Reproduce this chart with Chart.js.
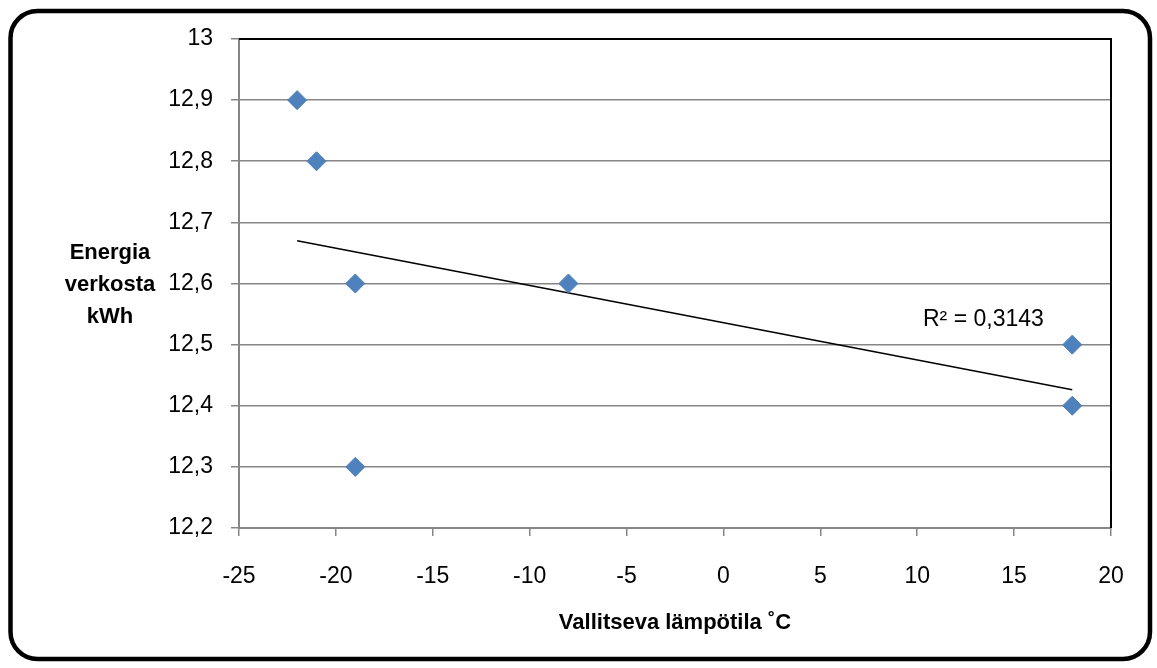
<!DOCTYPE html>
<html>
<head>
<meta charset="utf-8">
<script src="https://cdn.jsdelivr.net/npm/chart.js@4/dist/chart.umd.min.js"></script>
<style>
  html, body { margin: 0; padding: 0; background: #fff; }
  #wrap { width: 1157px; height: 668px; }
</style>
</head>
<body>
<div id="wrap"><canvas id="energy-chart" width="1157" height="668"></canvas></div>
<script>
// temperature (x) vs energy from grid (y)
const tempValues = [-22, -21, -19, -19, -8, 18, 18];
const energyValues = [12.9, 12.8, 12.6, 12.3, 12.6, 12.5, 12.4];

// linear trendline end points
const trendX = [-22, 18];
const trendY = [12.67, 12.426];

const xTitle = 'Vallitseva lämpötila ˚C';
const yTitle = ['Energia', 'verkosta', 'kWh'];
const rSquaredLabel = 'R² = 0,3143';

const FONT = '"Liberation Sans", Arial, sans-serif';

const frame = {
  id: 'frame',
  afterDraw(chart) {
    const ctx = chart.ctx;
    const a = chart.chartArea;
    ctx.save();
    // plot area top/right border
    ctx.strokeStyle = '#000';
    ctx.lineWidth = 2;
    ctx.beginPath();
    ctx.moveTo(a.left, a.top);
    ctx.lineTo(a.right, a.top);
    ctx.lineTo(a.right, a.bottom);
    ctx.stroke();

    // y title, horizontal lines
    ctx.fillStyle = '#000';
    ctx.font = 'bold 22px ' + FONT;
    ctx.textAlign = 'center';
    ctx.textBaseline = 'middle';
    yTitle.forEach((t, i) => ctx.fillText(t, 110, 253 + i * 32));

    // r squared label
    ctx.font = '23px ' + FONT;
    ctx.textAlign = 'left';
    ctx.fillText(rSquaredLabel, 923, 320);

    // outer rounded frame
    ctx.lineWidth = 4.5;
    ctx.beginPath();
    ctx.roundRect(10.5, 11, 1139.5, 648, 27);
    ctx.stroke();
    ctx.restore();
  }
};

const dataEnergy = {
  datasets: [
    {
      label: 'Energia',
      data: tempValues.map((x, i) => ({x: x, y: energyValues[i]})),
      pointStyle: 'rectRot',
      pointRadius: 9.5,
      pointHoverRadius: 9.5,
      backgroundColor: '#4F81BD',
      borderColor: '#4A7EBB',
      borderWidth: 1,
      order: 1
    },
    {
      label: 'Trend',
      data: trendX.map((x, i) => ({x: x, y: trendY[i]})),
      showLine: true,
      pointRadius: 0,
      borderColor: '#000',
      borderWidth: 1.5,
      order: 2
    }
  ]
};

const configEnergy = {
  type: 'scatter',
  data: dataEnergy,
  options: {
    responsive: false,
    animation: false,
    devicePixelRatio: 1,
    layout: { padding: { left: 0, top: 39, right: 46, bottom: 0 } },
    plugins: {
      legend: { display: false },
      tooltip: { enabled: false }
    },
    scales: {
      x: {
        type: 'linear',
        min: -25,
        max: 20,
        afterFit: (s) => { s.height = 140; },
        ticks: {
          stepSize: 5,
          color: '#000',
          padding: 27,
          font: { family: FONT, size: 23 }
        },
        grid: {
          drawOnChartArea: false,
          drawTicks: true,
          tickLength: 8,
          color: '#868686',
          lineWidth: 1.5
        },
        border: { color: '#868686', width: 2 },
        title: {
          display: true,
          text: xTitle,
          color: '#000',
          font: { family: FONT, size: 22, weight: 'bold' },
          padding: { top: 0, bottom: 32 }
        }
      },
      y: {
        min: 12.2,
        max: 13,
        afterFit: (s) => { s.width = 239; },
        ticks: {
          stepSize: 0.1,
          color: '#000',
          padding: 18,
          font: { family: FONT, size: 23 },
          callback: (v) => parseFloat(v.toFixed(1)).toString().replace('.', ',')
        },
        grid: {
          tickLength: 8,
          color: '#868686',
          lineWidth: 1.5
        },
        border: { color: '#868686', width: 2 }
      }
    }
  },
  plugins: [frame]
};

const ChartEnergy = new Chart(
  document.getElementById('energy-chart'),
  configEnergy
);
</script>
</body>
</html>
